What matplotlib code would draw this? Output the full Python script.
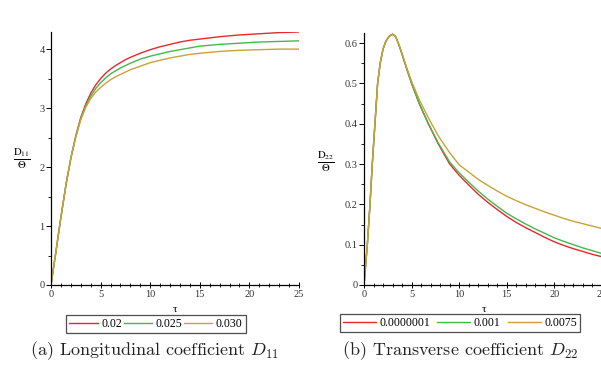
import numpy as np
import matplotlib
matplotlib.use("Agg")
import matplotlib.pyplot as plt
from matplotlib.ticker import MultipleLocator

# ---------------- data ----------------
tau_a = [0, 0.5, 1, 1.5, 2, 2.5, 3, 3.5, 4, 4.5, 5, 5.5, 6, 6.5, 7, 7.5, 8, 9, 10,
         11, 12, 13, 14, 15, 17, 19, 21, 23, 25]
d11_002 = [0, 0.57, 1.15, 1.69, 2.15, 2.53, 2.84, 3.07, 3.25, 3.39, 3.5, 3.59, 3.66, 3.72, 3.77,
           3.82, 3.86, 3.93, 3.99, 4.04, 4.08, 4.12, 4.15, 4.17, 4.21, 4.24, 4.26, 4.28, 4.29]
d11_0025 = [0, 0.57, 1.15, 1.69, 2.15, 2.52, 2.82, 3.04, 3.2, 3.33, 3.43, 3.51, 3.58, 3.63, 3.68,
            3.72, 3.76, 3.83, 3.88, 3.92, 3.96, 3.99, 4.02, 4.05, 4.08, 4.1, 4.12, 4.13, 4.14]
d11_0030 = [0, 0.57, 1.15, 1.69, 2.15, 2.51, 2.8, 3.01, 3.16, 3.27, 3.35, 3.42, 3.48, 3.53, 3.57,
            3.61, 3.65, 3.71, 3.77, 3.81, 3.85, 3.88, 3.91, 3.93, 3.96, 3.98, 3.99, 4.0, 4.0]
labels_a = ["0.02", "0.025", "0.030"]

tau_b = [0, 0.35, 0.63, 0.87, 1.15, 1.43, 1.7, 2.0, 2.3, 2.65, 3.0, 3.3, 3.6, 4.0, 4.5, 5.0,
         5.8, 6.75, 7.8, 9, 10, 11, 12, 13, 14, 15, 16, 17, 18, 19, 20, 21, 22, 23, 24, 25]
d22_1e7 = [0, 0.1, 0.2, 0.3, 0.4, 0.5, 0.55, 0.585, 0.605, 0.617, 0.622, 0.617, 0.6, 0.572,
           0.535, 0.5, 0.45, 0.4, 0.35, 0.3, 0.272, 0.248, 0.225, 0.205, 0.187, 0.17, 0.155,
           0.142, 0.13, 0.118, 0.107, 0.098, 0.09, 0.083, 0.076, 0.07]
d22_0001 = [0, 0.1, 0.2, 0.3, 0.4, 0.5, 0.55, 0.585, 0.605, 0.617, 0.622, 0.617, 0.6, 0.572,
            0.535, 0.5, 0.45, 0.401, 0.352, 0.305, 0.278, 0.255, 0.233, 0.213, 0.195, 0.178,
            0.164, 0.151, 0.139, 0.128, 0.117, 0.108, 0.1, 0.092, 0.085, 0.078]
d22_0075 = [0, 0.1, 0.2, 0.3, 0.4, 0.5, 0.55, 0.585, 0.605, 0.617, 0.622, 0.617, 0.601, 0.574,
            0.538, 0.505, 0.46, 0.415, 0.37, 0.328, 0.298, 0.28, 0.262, 0.247, 0.233, 0.22,
            0.209, 0.199, 0.19, 0.181, 0.173, 0.165, 0.158, 0.152, 0.146, 0.14]
labels_b = ["0.0000001", "0.001", "0.0075"]

colors = ["#e8262e", "#45b84a", "#c9a23a"]

# ---------------- figure ----------------
W, H = 601, 372
fig = plt.figure(figsize=(W / 100, H / 100), dpi=100)
tickfont = "Liberation Serif"


def style_axes(ax, xmax, ymax, ymaj, ymin):
    for s in ["top", "right"]:
        ax.spines[s].set_visible(False)
    ax.spines["left"].set_linewidth(0.9)
    ax.spines["bottom"].set_linewidth(0.9)
    ax.set_xlim(0, xmax)
    ax.set_ylim(0, ymax)
    ax.xaxis.set_major_locator(MultipleLocator(5))
    ax.xaxis.set_minor_locator(MultipleLocator(1))
    ax.yaxis.set_major_locator(MultipleLocator(ymaj))
    ax.yaxis.set_minor_locator(MultipleLocator(ymin))
    ax.tick_params(axis="x", which="major", direction="inout", length=5, width=0.7, labelsize=7.5, pad=1)
    ax.tick_params(axis="x", which="minor", direction="inout", length=3, width=0.6)
    ax.tick_params(axis="y", which="major", direction="out", length=3.5, width=0.7, labelsize=7.5, pad=1)
    ax.tick_params(axis="y", which="minor", direction="out", length=2, width=0.6)
    ax.yaxis.set_major_formatter(plt.FuncFormatter(lambda v, p: f"{v:g}"))
    for lab in ax.get_xticklabels() + ax.get_yticklabels():
        lab.set_fontfamily(tickfont)
        lab.set_color("#333333")


def add_legend(ax, cx, cy, handlelength, colspacing):
    leg = ax.legend(loc="center", bbox_to_anchor=(cx / W, 1 - cy / H),
                    bbox_transform=fig.transFigure, ncol=3, frameon=True,
                    fancybox=False, edgecolor="#222222", handlelength=handlelength,
                    handletextpad=0.3, columnspacing=colspacing, borderpad=0.25,
                    borderaxespad=0, prop={"family": tickfont, "size": 8.5})
    leg.get_frame().set_linewidth(0.9)
    return leg


# Left panel
ax1 = fig.add_axes([51 / W, 87 / H, 248 / W, 253 / H])
for y, c, l in zip([d11_002, d11_0025, d11_0030], colors, labels_a):
    ax1.plot(tau_a, y, color=c, lw=1.0, label=l)
style_axes(ax1, 25, 4.29, 1, 0.5)
fig.text(175 / W, 1 - 310 / H, "τ", fontfamily=tickfont, fontsize=8, ha="center", va="center")
fig.text(22 / W, 1 - 159 / H, r"$\frac{\mathrm{D}_{11}}{\Theta}$", fontsize=11,
         math_fontfamily="stix", ha="center", va="center")
add_legend(ax1, 156, 324, 2.4, 0.15)

# Right panel
ax2 = fig.add_axes([364 / W, 87 / H, 238 / W, 252 / H])
for y, c, l in zip([d22_1e7, d22_0001, d22_0075], colors, labels_b):
    ax2.plot(tau_b, y, color=c, lw=1.0, label=l)
style_axes(ax2, 25, 0.625, 0.1, 0.05)
fig.text(484 / W, 1 - 310 / H, "τ", fontfamily=tickfont, fontsize=8, ha="center", va="center")
fig.text(326 / W, 1 - 162 / H, r"$\frac{\mathrm{D}_{22}}{\Theta}$", fontsize=11,
         math_fontfamily="stix", ha="center", va="center")
add_legend(ax2, 460, 323, 2.8, 0.6)

# Captions
fig.text(155 / W, 1 - 351 / H, r"(a) Longitudinal coefficient $D_{11}$", ha="center", va="center",
         fontsize=13, family="cmr10", math_fontfamily="cm", color="#222222")
fig.text(460 / W, 1 - 351 / H, r"(b) Transverse coefficient $D_{22}$", ha="center", va="center",
         fontsize=13, family="cmr10", math_fontfamily="cm", color="#222222")

fig.savefig("out.png", dpi=100)
